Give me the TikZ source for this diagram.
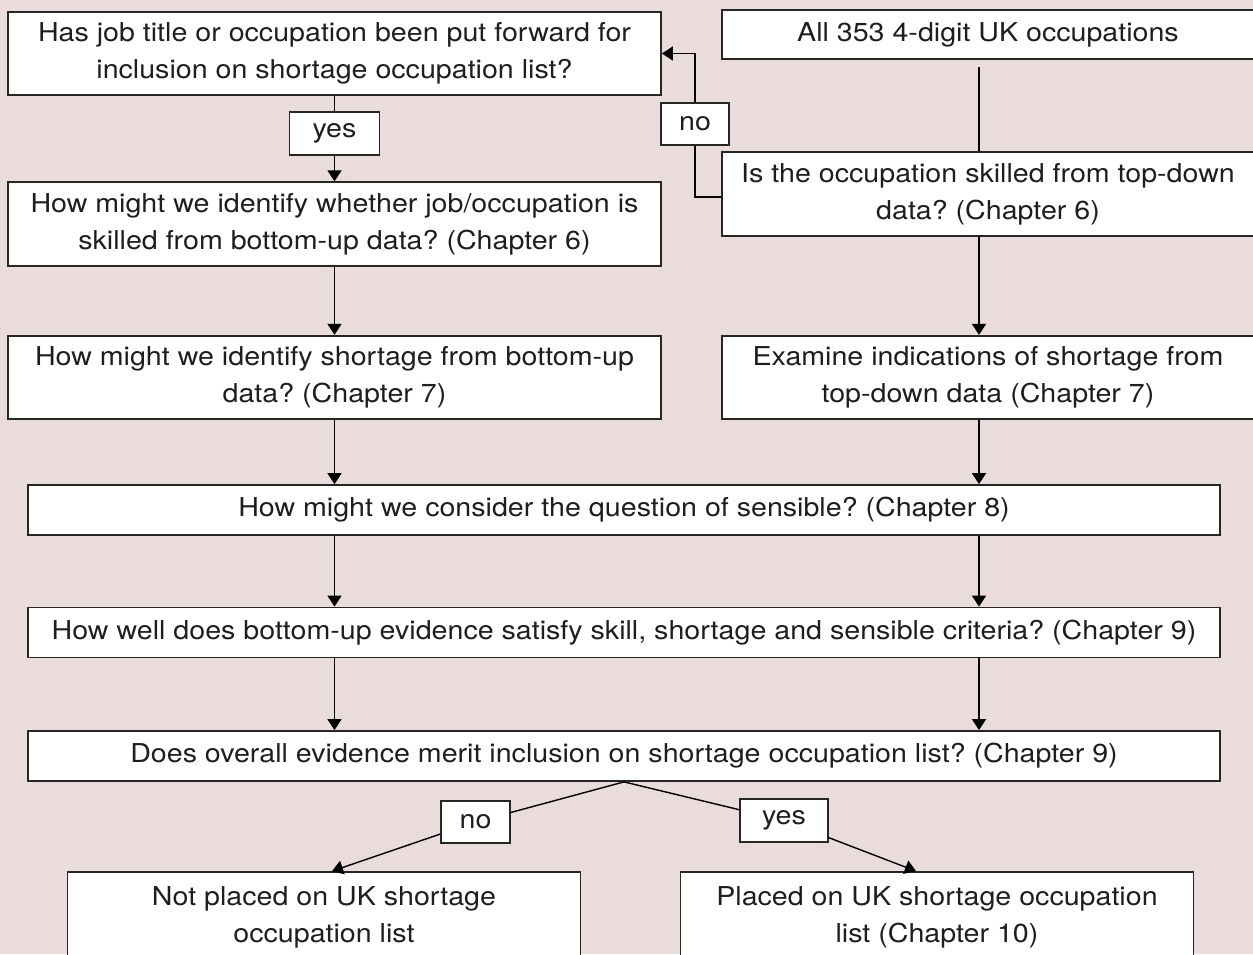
\documentclass[tikz,border=0pt]{standalone}
\usepackage{fontspec}
\setmainfont[FakeStretch=1.1]{TeX Gyre Heros}
\usepackage{xcolor}
\usetikzlibrary{positioning,arrows.meta}
\definecolor{bgcolor}{RGB}{233,220,218}
\definecolor{textcolor}{RGB}{30,30,30}
\frenchspacing
\tikzset{
    flow box/.style={rectangle, draw=black!85, line width=1pt, fill=white, align=center, inner sep=0pt, text=textcolor, font=\fontsize{14.8}{21}\selectfont},
    half box/.style={flow box, minimum width=13.06cm, minimum height=1.67cm},
    right box/.style={flow box, minimum width=10.64cm, minimum height=1.67cm},
    wide box/.style={flow box, minimum width=23.84cm, minimum height=1cm},
    result box/.style={flow box, minimum width=10.26cm, minimum height=1.8cm},
    answer/.style={flow box, minimum height=0.85cm},
    connection/.style={line width=0.8pt, black},
    flow arrow/.style={connection, -{Triangle[width=0.28cm,length=0.22cm]}}
}

\begin{document}
\begin{tikzpicture}
    % Background and fixed size
    \fill[bgcolor] (0,0) rectangle (25.06,-19.08);
    \useasboundingbox (0,0) rectangle (25.06,-19.08);

    % Bottom-up branch (left)
    \node[half box] (put) at (6.69,-1.07) {Has job title or occupation been put forward for\\inclusion on shortage occupation list?};
    \node[half box] (skillB) at (6.69,-4.48) {How might we identify whether job/occupation is\\skilled from bottom-up data? (Chapter 6)};
    \node[half box] (shortB) at (6.69,-7.55) {How might we identify shortage from bottom-up\\data? (Chapter 7)};

    % Top-down branch (right)
    \node[right box, minimum height=0.98cm] (all) at (19.76,-0.69) {All 353 4-digit UK occupations};
    \node[right box] (skillT) at (19.76,-3.88) {Is the occupation skilled from top-down\\data? (Chapter 6)};
    \node[right box] (shortT) at (19.76,-7.55) {Examine indications of shortage from\\top-down data (Chapter 7)};
    \coordinate (rcol) at (19.58,-1.34);

    % Common steps
    \node[wide box] (sensible) at (12.48,-10.2) {How might we consider the question of sensible? (Chapter 8)};
    \node[wide box] (criteria) at (12.48,-12.65) {How well does bottom-up evidence satisfy skill, shortage and sensible criteria? (Chapter 9)};
    \node[wide box] (merit) at (12.48,-15.12) {Does overall evidence merit inclusion on shortage occupation list? (Chapter 9)};

    % Outcomes
    \node[result box] (notplaced) at (6.48,-18.34) {Not placed on UK shortage\\occupation list};
    \node[result box] (placed) at (18.74,-18.34) {Placed on UK shortage occupation\\list (Chapter 10)};

    % Answer labels
    \node[answer, minimum width=1.8cm] (yesA) at (6.69,-2.67) {yes};
    \node[answer, minimum width=1.36cm] (noA) at (13.9,-2.48) {no};
    \node[answer, minimum width=1.38cm] (noB) at (9.51,-16.44) {no};
    \node[answer, minimum width=1.76cm] (yesB) at (15.68,-16.41) {yes};

    % Left column
    \draw[connection] (put) -- (yesA);
    \draw[flow arrow] (yesA) -- (skillB);
    \draw[flow arrow] (skillB) -- (shortB);
    \draw[flow arrow] (shortB.south) -- (shortB.south |- sensible.north);

    % Right column
    \draw[connection] (rcol) -- (skillT.north -| rcol);
    \draw[flow arrow] (skillT.south -| rcol) -- (shortT.north -| rcol);
    \draw[flow arrow] (shortT.south -| rcol) -- (sensible.north -| rcol);
    \draw[connection] ([yshift=-0.06cm]skillT.west) -| (noA.south);
    \draw[flow arrow] (noA.north) |- (put.east);

    % Through the common steps
    \draw[flow arrow] (sensible.south -| put) -- (criteria.north -| put);
    \draw[flow arrow] (sensible.south -| rcol) -- (criteria.north -| rcol);
    \draw[flow arrow] (criteria.south -| put) -- (merit.north -| put);
    \draw[flow arrow] (criteria.south -| rcol) -- (merit.north -| rcol);

    % Decision
    \draw[connection] (merit.south) -- (noB);
    \draw[flow arrow] (noB) -- ([xshift=0.16cm]notplaced.north);
    \draw[connection] (merit.south) -- (yesB);
    \draw[flow arrow] (yesB) -- ([xshift=-0.42cm]placed.north);
\end{tikzpicture}
\end{document}
